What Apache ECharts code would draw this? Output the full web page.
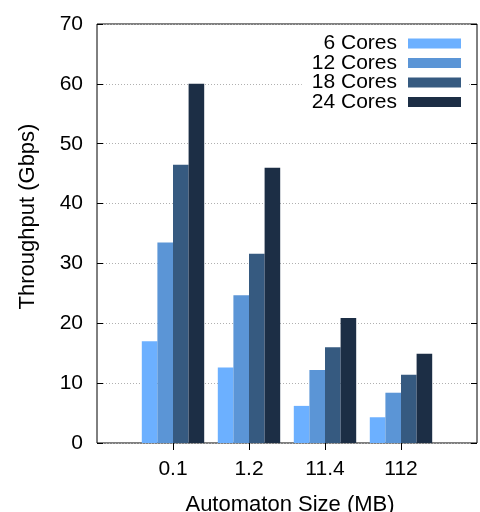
<!DOCTYPE html>
<html>
<head>
<meta charset="utf-8">
<script src="https://cdn.jsdelivr.net/npm/echarts@6/dist/echarts.min.js"></script>
<style>html,body{margin:0;padding:0;background:#fff}#c{width:480px;height:512px}</style>
</head>
<body>
<div id="c"></div>
<script>
const categories = ['', '0.1', '1.2', '11.4', '112', ''];
const seriesNames = ['6 Cores', '12 Cores', '18 Cores', '24 Cores'];
const cores6  = [null, 17.0, 12.6, 6.2, 4.3, null];
const cores12 = [null, 33.5, 24.7, 12.2, 8.4, null];
const cores18 = [null, 46.5, 31.6, 16.0, 11.4, null];
const cores24 = [null, 60.0, 46.0, 20.9, 14.9, null];
const yTicks = [0, 10, 20, 30, 40, 50, 60, 70];
const colors = ['#6cb0ff', '#5b95d6', '#365a80', '#1c2e45'];

const FONT = 'Liberation Sans';
const chart = echarts.init(document.getElementById('c'), null, {renderer: 'canvas'});
const allData = [cores6, cores12, cores18, cores24];

chart.setOption({
  animation: false,
  textStyle: {fontFamily: FONT},
  grid: {left: 97, top: 24, width: 386.6, height: 419, show: true, borderColor: '#000', borderWidth: 1, backgroundColor: 'transparent'},
  legend: {
    data: seriesNames,
    orient: 'vertical',
    align: 'right',
    right: 11,
    top: 28,
    itemWidth: 53,
    itemHeight: 10,
    itemGap: -1.5,
    padding: [5, 8, 5, 10],
    backgroundColor: '#fff',
    icon: 'rect',
    z: 10,
    textStyle: {fontFamily: FONT, fontSize: 21, color: '#000', lineHeight: 19.5, padding: [0, 6, 0, 0]},
    itemStyle: {borderWidth: 0}
  },
  xAxis: [{
    type: 'category',
    data: categories,
    boundaryGap: false,
    axisLine: {show: false},
    axisTick: {show: false},
    splitLine: {show: false},
    axisLabel: {color: '#000', fontSize: 21, fontFamily: FONT, margin: 16, interval: 0}
  }, {
    type: 'category',
    data: categories,
    position: 'top',
    boundaryGap: false,
    axisLine: {show: false},
    axisTick: {show: true, inside: true, length: 7, lineStyle: {color: '#000', width: 1},
      interval: function (i) { return i > 0 && i < categories.length - 1; }},
    axisLabel: {show: false},
    splitLine: {show: false}
  }],
  yAxis: [{
    type: 'value',
    min: yTicks[0],
    max: yTicks[yTicks.length - 1],
    interval: 10,
    axisLine: {show: false},
    axisTick: {show: true, inside: true, length: 6, lineStyle: {color: '#000'}},
    axisLabel: {color: '#000', fontSize: 21, fontFamily: FONT, margin: 14},
    splitLine: {show: true, lineStyle: {color: '#b0b0b0', type: [1, 2], width: 1}}
  }, {
    type: 'value',
    position: 'right',
    min: yTicks[0],
    max: yTicks[yTicks.length - 1],
    interval: 10,
    axisLine: {show: false},
    axisTick: {show: true, inside: true, length: 6, lineStyle: {color: '#000'}},
    axisLabel: {show: false},
    splitLine: {show: false}
  }],
  graphic: [{
    type: 'text',
    x: 28, y: 216.5,
    rotation: Math.PI / 2,
    style: {text: 'Throughput (Gbps)', fontSize: 22, fontFamily: FONT, fill: '#000', align: 'center', verticalAlign: 'middle'}
  }, {
    type: 'text',
    x: 290, y: 505,
    style: {text: 'Automaton Size (MB)', fontSize: 22, fontFamily: FONT, fill: '#000', align: 'center', verticalAlign: 'middle'}
  }],
  series: seriesNames.map((n, i) => ({
    name: n,
    type: 'bar',
    data: allData[i],
    barWidth: 15.6,
    barGap: '0%',
    itemStyle: {color: colors[i]},
    z: 2
  }))
});
</script>
</body>
</html>
